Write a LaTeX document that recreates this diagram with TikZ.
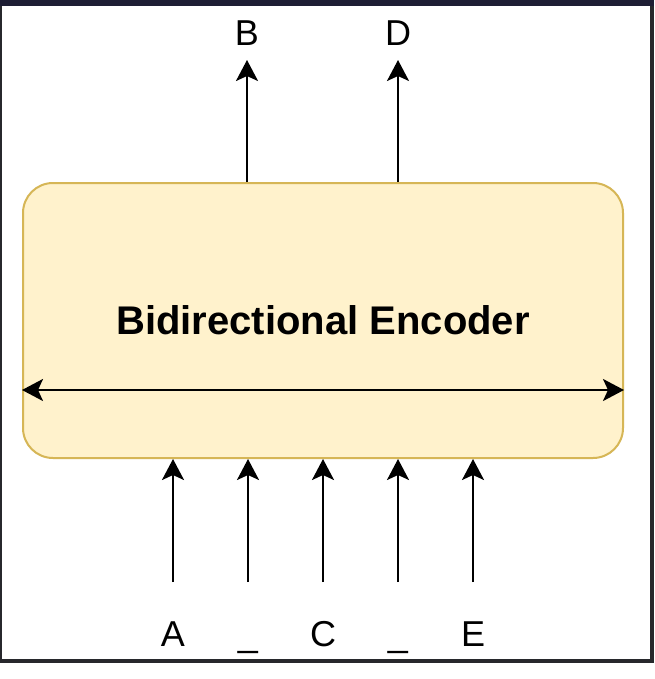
\documentclass[tikz,border=0pt]{standalone}
\usepackage{fontspec}
\setmainfont{Liberation Sans}
\usetikzlibrary{positioning}
\usetikzlibrary{arrows.meta}

\definecolor{encfill}{HTML}{FFF2CC}
\definecolor{encdraw}{HTML}{D6B656}
\definecolor{frametop}{HTML}{1E1E34}
\definecolor{frameside}{HTML}{27282C}

\begin{document}
\begin{tikzpicture}[
  x=1pt, y=-1pt,
  line/.style = {line width=2.4pt,->},
  token/.style = {anchor=base,inner sep=0pt,font=\fontsize{36}{43}\selectfont},
  >={Stealth[length=21pt,width=22pt,inset=5pt]},
  scale=1
]

  \useasboundingbox (0,0) rectangle (654,679);
  % frame
  \fill[white] (0,0) rectangle (654,679);
  \fill[frametop] (0,0) rectangle (654,6);
  \fill[frameside] (0,6) rectangle (2,663);
  \fill[frameside] (650,6) rectangle (654,663);
  \fill[frameside] (0,659) rectangle (654,663);

  \node[draw=encdraw,fill=encfill,line width=2pt,rounded corners=30pt,
        minimum width=600pt,minimum height=275pt,
        font=\fontsize{40}{48}\selectfont\bfseries] (enc) at (323,320.5)
        {Bidirectional Encoder};

  % outputs
  \coordinate (tipB) at (247,60);
  \coordinate (tipD) at (398,60);
  \node[token] (labB) at (247,46) {B};
  \node[token] (labD) at (398,46) {D};
  \draw[line] (enc.north -| tipB) -- (tipB);
  \draw[line] (enc.north -| tipD) -- (tipD);

  % inputs
  \coordinate (inA) at (173,582);
  \coordinate (inU) at (248,582);
  \coordinate (inC) at (323,582);
  \coordinate (inV) at (398,582);
  \coordinate (inE) at (473,582);
  \node[token] (labA) at (173,646) {A};
  \node[token] (labU) at (248,646) {\_};
  \node[token] (labC) at (323,646) {C};
  \node[token] (labV) at (398,646) {\_};
  \node[token] (labE) at (473,646) {E};
  \draw[line] (inA) -- (inA |- enc.south);
  \draw[line] (inU) -- (inU |- enc.south);
  \draw[line] (inC) -- (inC |- enc.south);
  \draw[line] (inV) -- (inV |- enc.south);
  \draw[line] (inE) -- (inE |- enc.south);

  % both directions
  \coordinate (bi) at (323,390);
  \draw[line,<->] (enc.west |- bi) -- (enc.east |- bi);

\end{tikzpicture}
\end{document}
